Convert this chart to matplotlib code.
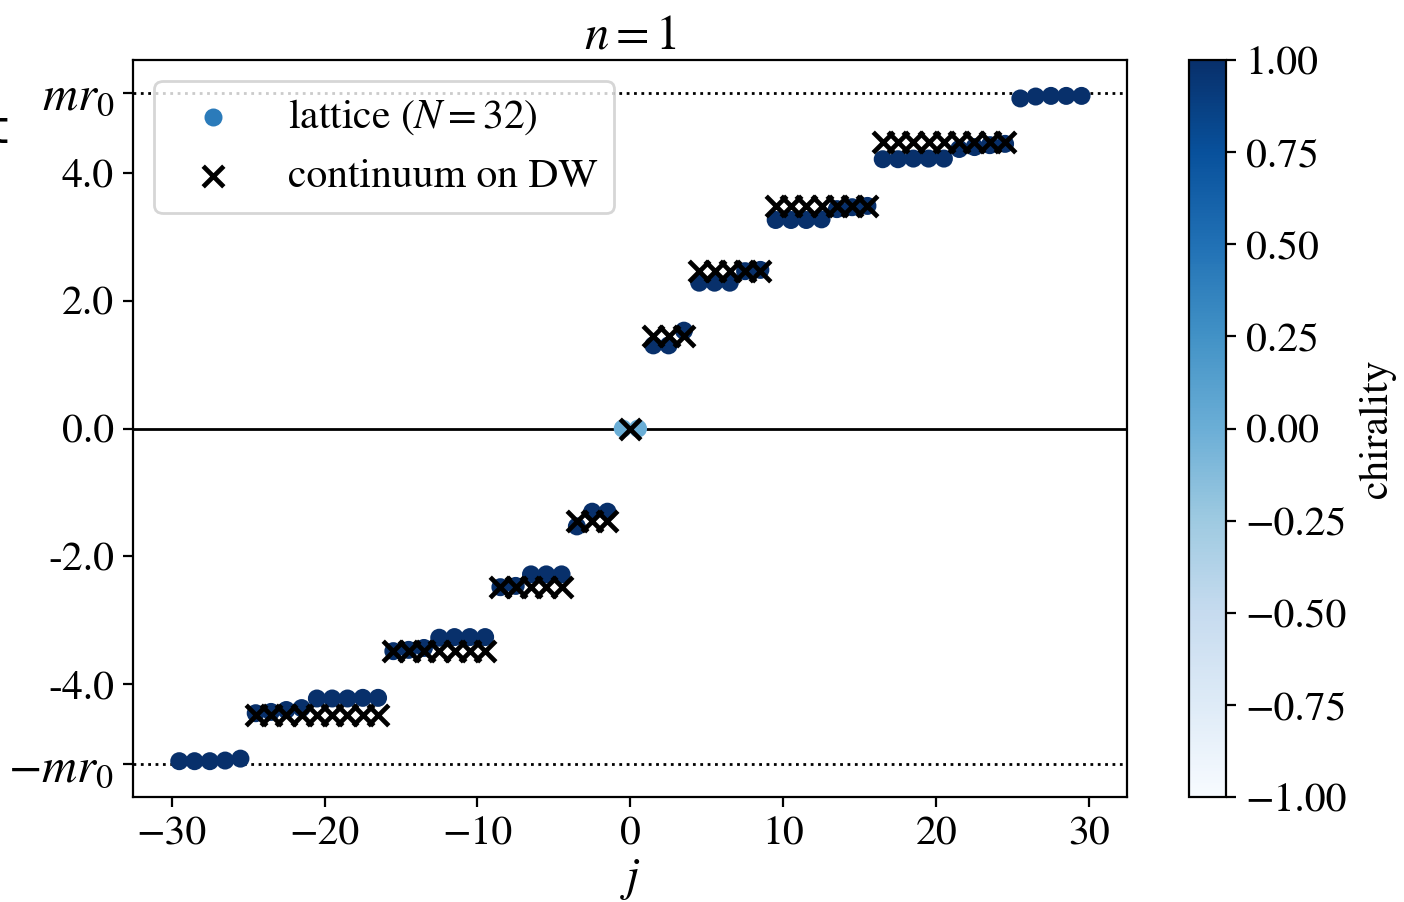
import matplotlib
matplotlib.use('Agg')
import matplotlib.pyplot as plt
import numpy as np

plt.rcParams['font.family'] = 'STIXGeneral'
plt.rcParams['mathtext.fontset'] = 'stix'
plt.rcParams['font.size'] = 15

mr0 = 5.25

# lattice eigenvalues (N = 32)
j_lat = [-29.5, -28.5, -27.5, -26.5, -25.5,
         -24.5, -23.5, -22.5, -21.5, -20.5, -19.5, -18.5, -17.5, -16.5,
         -15.5, -14.5, -13.5, -12.5, -11.5, -10.5, -9.5,
         -8.5, -7.5, -6.5, -5.5, -4.5,
         -3.5, -2.5, -1.5,
         -0.5, 0.5,
         1.5, 2.5, 3.5,
         4.5, 5.5, 6.5, 7.5, 8.5,
         9.5, 10.5, 11.5, 12.5, 13.5, 14.5, 15.5,
         16.5, 17.5, 18.5, 19.5, 20.5, 21.5, 22.5, 23.5, 24.5,
         25.5, 26.5, 27.5, 28.5, 29.5]
E_lat = [-5.20, -5.20, -5.20, -5.19, -5.16,
         -4.45, -4.43, -4.40, -4.37, -4.22, -4.22, -4.22, -4.21, -4.21,
         -3.48, -3.46, -3.43, -3.27, -3.26, -3.26, -3.26,
         -2.48, -2.46, -2.28, -2.28, -2.28,
         -1.53, -1.30, -1.30,
         0.0, 0.0,
         1.30, 1.30, 1.53,
         2.28, 2.28, 2.28, 2.46, 2.48,
         3.26, 3.26, 3.26, 3.27, 3.43, 3.46, 3.48,
         4.21, 4.21, 4.22, 4.22, 4.22, 4.37, 4.40, 4.43, 4.45,
         5.16, 5.19, 5.20, 5.20, 5.20]
chi_lat = [1.0] * 29 + [0.0, 0.0] + [1.0] * 29

# continuum spectrum on the domain wall
j_cont = [-24.5, -23.5, -22.5, -21.5, -20.5, -19.5, -18.5, -17.5, -16.5,
          -15.5, -14.5, -13.5, -12.5, -11.5, -10.5, -9.5,
          -8.5, -7.5, -6.5, -5.5, -4.5,
          -3.5, -2.5, -1.5,
          0.0,
          1.5, 2.5, 3.5,
          4.5, 5.5, 6.5, 7.5, 8.5,
          9.5, 10.5, 11.5, 12.5, 13.5, 14.5, 15.5,
          16.5, 17.5, 18.5, 19.5, 20.5, 21.5, 22.5, 23.5, 24.5]
E_cont = [-4.48] * 9 + [-3.48] * 7 + [-2.47] * 5 + [-1.44] * 3 + [0.0] + \
         [1.44] * 3 + [2.47] * 5 + [3.48] * 7 + [4.48] * 9

ytick_pos = [-mr0, -4.0, -2.0, 0.0, 2.0, 4.0, mr0]
ytick_lab = [r'$-mr_0$', '-4.0', '-2.0', '0.0', '2.0', '4.0', r'$mr_0$']

fig = plt.figure(figsize=(7.02, 4.51), dpi=200)
ax = fig.add_axes([0.095, 0.1164, 0.708, 0.817])
cax = fig.add_axes([0.8466, 0.1164, 0.0267, 0.817])

ax.axhline(0, color='black', lw=1.0, zorder=1)
ax.axhline(mr0, color='black', lw=1.0, ls=':', zorder=1)
ax.axhline(-mr0, color='black', lw=1.0, ls=':', zorder=1)

sc = ax.scatter(j_lat, E_lat, c=chi_lat, cmap='Blues', vmin=-1, vmax=1,
                s=30, zorder=2, label=r'lattice $(N=32)$')
ax.scatter(j_cont, E_cont, marker='x', color='black', s=55, linewidths=1.7,
           zorder=3, label='continuum on DW')

ax.set_xlim(-32.5, 32.5)
ax.set_ylim(-5.76, 5.76)
ax.set_yticks(ytick_pos)
ax.set_yticklabels(ytick_lab)
# math labels look a bit larger in the original
for t in ax.get_yticklabels():
    if 'mr' in t.get_text():
        t.set_fontsize(17.5)
ax.set_xlabel(r'$j$', labelpad=1, fontsize=17)
ax.set_title(r'$n=1$', pad=4, fontsize=17.5)

leg = ax.legend(loc='upper left')
h = leg.legend_handles[0]
h.set_array(None)
h.set_facecolor('#2b7bba')
h.set_edgecolor('#2b7bba')

cb = fig.colorbar(sc, cax=cax)
cb.set_ticks(np.arange(-1, 1.01, 0.25))
cb.set_label('chirality')

fig.text(0.006, 0.855, 't', family='DejaVu Sans', fontsize=17,
         ha='right', va='center')

fig.savefig('out.png', dpi=200)
